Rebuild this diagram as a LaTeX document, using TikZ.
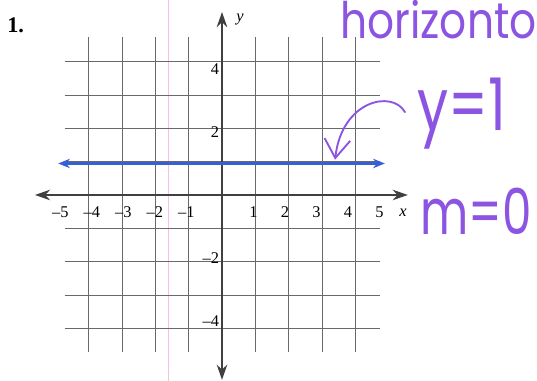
\documentclass[tikz,border=0pt]{standalone}
\usepackage{fontspec}
\setmainfont{Liberation Serif}
\newfontfamily\handfont{Poppins}
\usetikzlibrary{arrows.meta}
\definecolor{penpurple}{RGB}{140,85,225}
\definecolor{lineblue}{RGB}{55,95,215}
\definecolor{gridgray}{RGB}{105,105,105}
\begin{document}
\begin{tikzpicture}[x=0.945cm,y=0.945cm,line join=round,>={Stealth[length=13pt,width=9pt]},font=\fontsize{14}{16}\selectfont]
	\useasboundingbox (-7.048,-5.905) rectangle (10,6.19);
	\tikzset{pen/.style={penpurple,anchor=base west,inner sep=0pt,transform shape,font=\handfont\fontsize{#1}{#1}\selectfont}}
	\draw[magenta!25, line width=0.4pt] (-1.71,-5.905) -- (-1.71,6.19);
	\draw[gridgray, line width=0.6pt] (-5,-5) grid (5,5);
	\draw[<->, line width=1.6pt, black!75] (-5.94,0) -- (5.9,0);
	\draw[<->, line width=1.6pt, black!75] (0,-5.87) -- (0,5.81);
	\foreach \i in {1,...,5} {
		\node (xp\i) at (\i,-0.55) {\i};
		\node (xn\i) at (-\i,-0.55) {\llap{\textendash}\i};
	}
	\foreach \j in {2,4} {
		\node[left, inner sep=1pt] (yp\j) at (-0.05,\j) {\j};
		\node[left, inner sep=1pt] (yn\j) at (-0.05,-\j) {\textendash\j};
	}
	\node (ylab) at (0.57,5.56) {\textit{y}};
	\node (xlab) at (5.75,-0.57) {\textit{x}};
	\node[font=\fontsize{19}{20}\selectfont\bfseries] (num) at (-6.55,5.4) {1.};
	\draw[lineblue, line width=2pt, <->, >={Stealth[length=10pt,width=8pt]}] (-5.2,1) -- (5.17,1);
	% handwritten notes
	\node[pen=43, xscale=0.84] (word) at (3.75,4.98) {horizonto};
	\node[pen=62, xscale=0.76] (eqn) at (6.19,2.06) {y=1};
	\node[pen=54, xscale=0.74] (slope) at (6.29,-1.27) {m=0};
	\coordinate (arrowstart) at (5.81,2.63);
	\coordinate (arrowtip) at (3.59,1.12);
	\draw[penpurple, line width=1.6pt, line cap=round, -{Straight Barb[length=16pt,width=22pt]}] (arrowstart) .. controls (5.4,3.35) and (3.8,3.0) .. (arrowtip);
\end{tikzpicture}
\end{document}
